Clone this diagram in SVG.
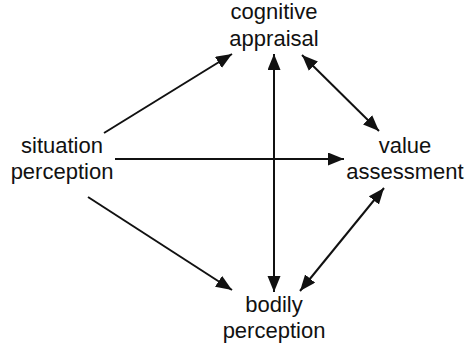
<svg xmlns="http://www.w3.org/2000/svg" width="472" height="345" viewBox="0 0 472 345">
<style>
.lbl{font-family:"Liberation Sans",Arial,sans-serif;font-size:22px;fill:#111;text-anchor:middle}
.c{stroke:#111;stroke-width:2;fill:none}
</style>
<defs>
<marker id="ah" markerUnits="userSpaceOnUse" markerWidth="17" markerHeight="14" refX="16" refY="6.5" orient="auto-start-reverse" viewBox="0 0 17 14">
<path d="M0,0 L16,6.5 L0,13 z" fill="#111"/>
</marker>
</defs>
<rect width="472" height="345" fill="#fff"/>
<g id="connectors">
<line class="c" x1="104" y1="133" x2="232" y2="54" marker-end="url(#ah)"/>
<line class="c" x1="115" y1="159" x2="344" y2="159" marker-end="url(#ah)"/>
<line class="c" x1="88" y1="197" x2="232" y2="290" marker-end="url(#ah)"/>
<line class="c" x1="274" y1="54" x2="274" y2="292" marker-start="url(#ah)" marker-end="url(#ah)"/>
<line class="c" x1="302" y1="55" x2="379" y2="131" marker-start="url(#ah)" marker-end="url(#ah)"/>
<line class="c" x1="384" y1="188" x2="300" y2="291" marker-start="url(#ah)" marker-end="url(#ah)"/>
</g>
<g id="cognitive-appraisal">
<text class="lbl" x="274" y="19">cognitive</text>
<text class="lbl" x="274" y="45.5">appraisal</text>
</g>
<g id="situation-perception">
<text class="lbl" x="62" y="153">situation</text>
<text class="lbl" x="62" y="179">perception</text>
</g>
<g id="value-assessment">
<text class="lbl" x="405" y="153">value</text>
<text class="lbl" x="405" y="179">assessment</text>
</g>
<g id="bodily-perception">
<text class="lbl" x="274" y="312">bodily</text>
<text class="lbl" x="274" y="338">perception</text>
</g>
</svg>
